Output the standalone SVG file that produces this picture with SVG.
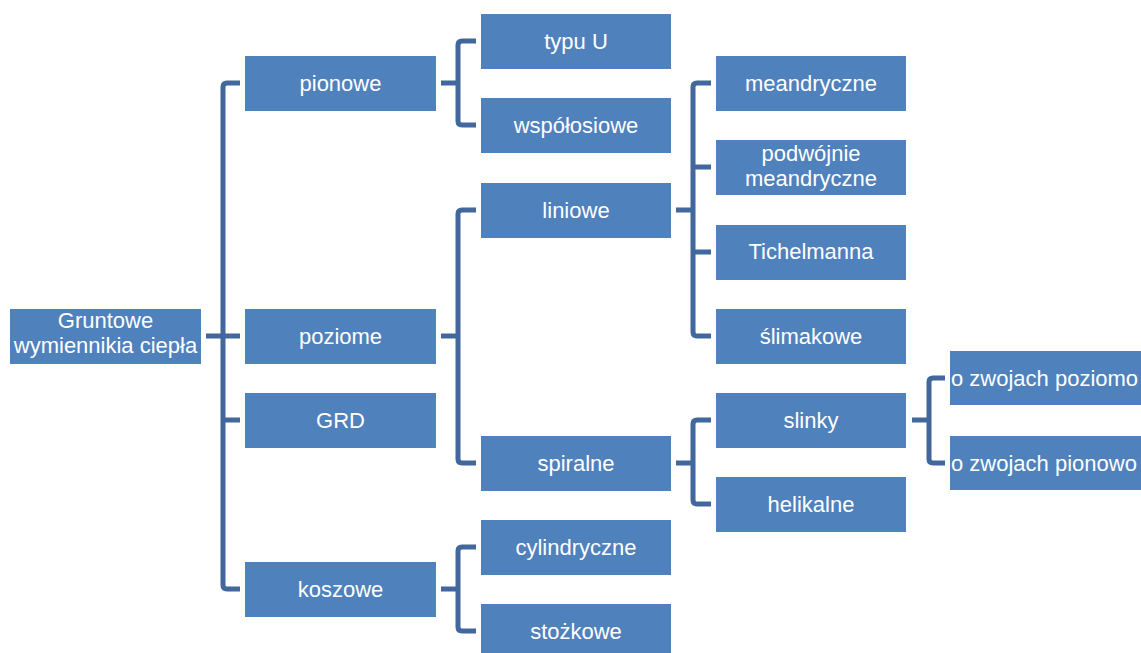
<svg xmlns="http://www.w3.org/2000/svg" width="1141" height="653" viewBox="0 0 1141 653">
<style>
.box{fill:#4F81BD;}
.t{font-family:"Liberation Sans",Arial,sans-serif;font-size:22px;fill:#FFFFFF;text-anchor:middle;}
.ts{font-family:"Liberation Sans",Arial,sans-serif;font-size:22px;fill:#FFFFFF;text-anchor:start;}
.c{fill:none;stroke:#41679C;stroke-width:5;stroke-linejoin:round;}
</style>
<rect width="1141" height="653" fill="#FFFFFF"/>
<g id="connectors">
<path class="c" d="M206,336 H240 M240,83 H227 Q223,83 223,87 V585 Q223,589 227,589 H240 M223,420 H240"/>
<path class="c" d="M441,83 H458 M476,41 H462 Q458,41 458,45 V121 Q458,125 462,125 H476"/>
<path class="c" d="M441,336 H458 M476,210 H462 Q458,210 458,214 V459 Q458,463 462,463 H476"/>
<path class="c" d="M441,589 H458 M476,547 H462 Q458,547 458,551 V627 Q458,631 462,631 H476"/>
<path class="c" d="M676,210 H693 M711,83 H697 Q693,83 693,87 V332 Q693,336 697,336 H711 M693,167 H711 M693,252 H711"/>
<path class="c" d="M676,463 H693 M711,420 H697 Q693,420 693,424 V500 Q693,504 697,504 H711"/>
<path class="c" d="M912,420 H929 M945,378 H933 Q929,378 929,382 V459 Q929,463 933,463 H945"/>
</g>
<g id="root"><rect class="box" x="10" y="309" width="191" height="55"/><text class="t" x="105.5" y="328">Gruntowe</text><text class="t" x="105.5" y="353">wymiennikia ciepła</text></g>
<g id="pionowe"><rect class="box" x="245" y="56" width="191" height="55"/><text class="t" x="340.5" y="91">pionowe</text></g>
<g id="poziome"><rect class="box" x="245" y="309" width="191" height="55"/><text class="t" x="340.5" y="344">poziome</text></g>
<g id="grd"><rect class="box" x="245" y="393" width="191" height="55"/><text class="t" x="340.5" y="428">GRD</text></g>
<g id="koszowe"><rect class="box" x="245" y="562" width="191" height="55"/><text class="t" x="340.5" y="597">koszowe</text></g>
<g id="typuU"><rect class="box" x="481" y="14" width="190" height="55"/><text class="t" x="576" y="49">typu U</text></g>
<g id="wspolosiowe"><rect class="box" x="481" y="98" width="190" height="55"/><text class="t" x="576" y="133">współosiowe</text></g>
<g id="liniowe"><rect class="box" x="481" y="183" width="190" height="55"/><text class="t" x="576" y="218">liniowe</text></g>
<g id="spiralne"><rect class="box" x="481" y="436" width="190" height="55"/><text class="t" x="576" y="471">spiralne</text></g>
<g id="cylindryczne"><rect class="box" x="481" y="520" width="190" height="55"/><text class="t" x="576" y="555">cylindryczne</text></g>
<g id="stozkowe"><rect class="box" x="481" y="604" width="190" height="55"/><text class="t" x="576" y="639">stożkowe</text></g>
<g id="meandryczne"><rect class="box" x="716" y="56" width="190" height="55"/><text class="t" x="811" y="91">meandryczne</text></g>
<g id="podwojnie"><rect class="box" x="716" y="140" width="190" height="55"/><text class="t" x="811" y="161">podwójnie</text><text class="t" x="811" y="186">meandryczne</text></g>
<g id="tichelmanna"><rect class="box" x="716" y="225" width="190" height="55"/><text class="t" x="811" y="259">Tichelmanna</text></g>
<g id="slimakowe"><rect class="box" x="716" y="309" width="190" height="55"/><text class="t" x="811" y="344">ślimakowe</text></g>
<g id="slinky"><rect class="box" x="716" y="393" width="190" height="55"/><text class="t" x="811" y="428">slinky</text></g>
<g id="helikalne"><rect class="box" x="716" y="477" width="190" height="55"/><text class="t" x="811" y="512">helikalne</text></g>
<g id="poziomo"><rect class="box" x="950" y="351" width="195" height="54"/><text class="ts" x="951" y="386">o zwojach poziomo</text></g>
<g id="pionowo"><rect class="box" x="950" y="436" width="195" height="54"/><text class="ts" x="951" y="471">o zwojach pionowo</text></g>
</svg>
